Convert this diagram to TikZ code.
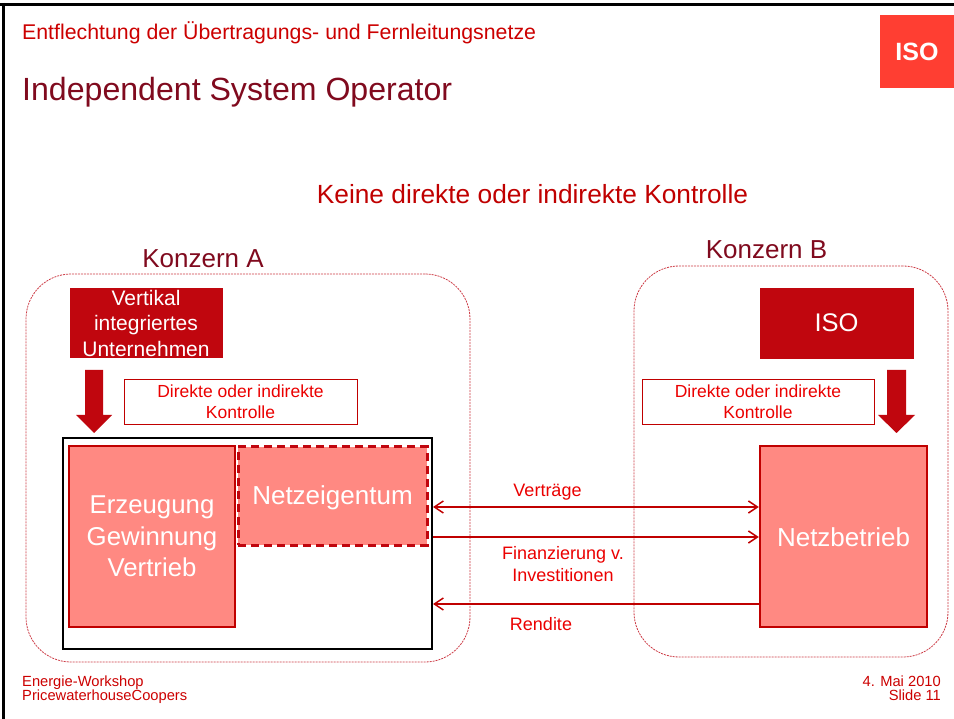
\documentclass[tikz,border=0pt]{standalone}
\usepackage{fontspec}
\setmainfont{Liberation Sans}
\usetikzlibrary{arrows.meta}
\definecolor{hdred}{RGB}{204,0,0}
\definecolor{maroon}{RGB}{128,10,30}
\definecolor{kred}{RGB}{192,0,0}
\definecolor{dred}{RGB}{192,6,14}
\definecolor{salmon}{RGB}{255,137,130}
\definecolor{isored}{RGB}{255,62,50}
\definecolor{brred}{RGB}{235,0,0}
\definecolor{konzline}{RGB}{205,60,70}
\newcommand{\fs}[2]{\fontsize{#1}{#2}\selectfont}
\begin{document}
\begin{tikzpicture}[x=1pt,y=-1pt,
  darkbox/.style={fill=dred, draw=dred, inner sep=0, text=white, align=center},
  salbox/.style={fill=salmon, draw=kred, line width=2.5, inner sep=0, text=white, align=center},
  ctrlbox/.style={draw=kred, line width=0.8, fill=white, inner sep=0, text=brred, align=center, font=\fs{17.5}{21}},
  konz/.style={draw=konzline, line width=0.8, dash pattern=on 2pt off 1pt, rounded corners=45, inner sep=0},
  arr/.style={draw=kred, line width=1.5, arrows={Straight Barb[length=9pt,width=12pt]-Straight Barb[length=9pt,width=12pt]}},
  lbl/.style={text=brred, font=\fs{18}{22}, align=center, inner sep=0}
]
\useasboundingbox (0,0) rectangle (954,719);
\fill[white] (0,0) rectangle (954,719);
% frame
\draw[line width=3] (0,4.5) -- (954,4.5);
\draw[line width=3] (3.5,3) -- (3.5,719);
% header
\node[anchor=base west, inner sep=0, text=hdred, font=\fs{21.3}{24}] (hdr) at (22,39.5) {Entflechtung der Übertragungs- und Fernleitungsnetze};
\node[anchor=base west, inner sep=0, text=maroon, font=\fs{32.1}{36}] (title) at (22,101) {Independent System Operator};
\node[fill=isored, inner sep=0, minimum width=74, minimum height=73, text=white, font=\bfseries\fs{25}{28}] (isotag) at (917,51.5) {ISO};
% main heading
\node[anchor=base, inner sep=0, text=kred, font=\fs{26.3}{30}] (keine) at (532.5,204) {Keine direkte oder indirekte Kontrolle};
% containers
\node[konz, minimum width=444, minimum height=388] (konzA) at (248,468) {};
\node[konz, minimum width=314, minimum height=391] (konzB) at (791,461.5) {};
\node[anchor=base, inner sep=0, text=maroon, font=\fs{26}{30}] (labA) at (203,268) {Konzern A};
\node[anchor=base, inner sep=0, text=maroon, font=\fs{26}{30}] (labB) at (766.5,259) {Konzern B};
% Konzern A
\node[darkbox, minimum width=152, minimum height=69, font=\fs{21}{25.5}] (viu) at (146,322.5) {\rule{0pt}{17pt}Vertikal\\integriertes\\Unternehmen};
\fill[dred] (85,370) -- (103,370) -- (103,415) -- (112,415) -- (94,433) -- (76,415) -- (85,415) -- cycle;
\node[ctrlbox, minimum width=233, minimum height=45] (ctrlA) at (240.5,401.5) {Direkte oder indirekte\\Kontrolle};
\node[draw=black, line width=2, minimum width=369, minimum height=211, inner sep=0] (outer) at (247.5,543.5) {};
\node[salbox, minimum width=166, minimum height=181, font=\fs{25.8}{31.5}] (erz) at (152,536.5) {Erzeugung\\Gewinnung\\Vertrieb};
\node[salbox, draw=dred, line width=3, dash pattern=on 8pt off 5pt, minimum width=189, minimum height=98, font=\fs{26}{30}] (netzeig) at (332.5,496) {\rule{0pt}{23.3pt}Netzeigentum};
% Konzern B
\node[darkbox, minimum width=153, minimum height=70, font=\fs{25.5}{30}] (iso) at (836.5,323) {ISO};
\fill[dred] (887,370) -- (906,370) -- (906,415) -- (915,415) -- (896.5,433) -- (878,415) -- (887,415) -- cycle;
\node[ctrlbox, minimum width=232, minimum height=45] (ctrlB) at (758,401.5) {Direkte oder indirekte\\Kontrolle};
\node[salbox, minimum width=167, minimum height=181, font=\fs{26}{30}] (netzbet) at (843.5,536.5) {\rule{0pt}{20.5pt}Netzbetrieb};
% flows
\draw[arr] (outer.east |- 0,507) -- (netzbet.west |- 0,507);
\draw[arr, arrows={-Straight Barb[length=9pt,width=12pt]}] (outer.east |- 0,537) -- (netzbet.west |- 0,537);
\draw[arr, arrows={-Straight Barb[length=9pt,width=12pt]}] (netzbet.west |- 0,604) -- (outer.east |- 0,604);
\node[lbl] (lv) at (547.5,492) {Verträge};
\node[lbl] (lf) at (563,564) {Finanzierung v.\\Investitionen};
\node[lbl] (lr) at (541,624) {Rendite};
% footer
\node[anchor=base west, inner sep=0, text=hdred, font=\fs{14.7}{14}] (f1) at (22,686) {Energie-Workshop};
\node[anchor=base west, inner sep=0, text=hdred, font=\fs{14.7}{14}] (f2) at (22,700) {PricewaterhouseCoopers};
\node[anchor=base east, inner sep=0, text=hdred, font=\fs{14.7}{14}] (f3) at (941,686) {4. Mai 2010};
\node[anchor=base east, inner sep=0, text=hdred, font=\fs{14.7}{14}] (f4) at (941,700) {Slide 11};
\end{tikzpicture}
\end{document}
